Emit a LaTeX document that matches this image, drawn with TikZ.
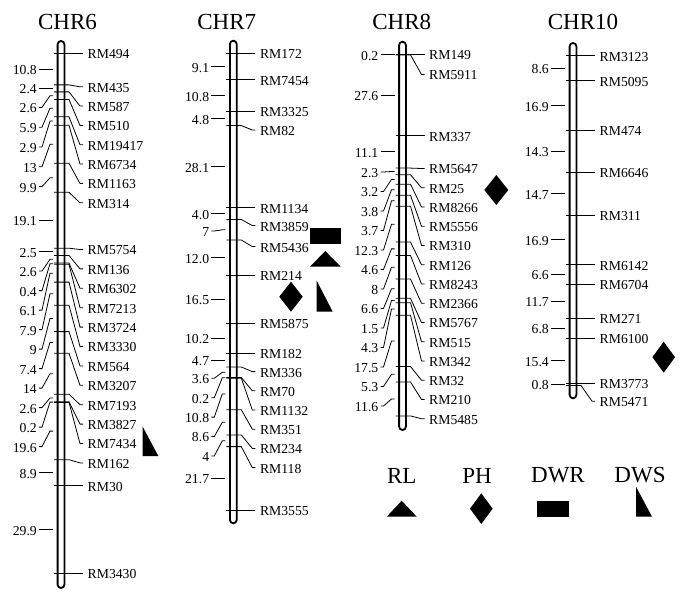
\documentclass[tikz,border=0pt]{standalone}
\usepackage{fontspec}
\setmainfont{Liberation Serif}
\tikzset{
  tickline/.style={line width=0.8pt, line cap=butt, line join=miter},
  mlab/.style={anchor=west, inner sep=0pt, font=\fontsize{13.7}{14}\selectfont},
  dlab/.style={anchor=east, inner sep=0pt, font=\fontsize{13.7}{14}\selectfont},
  chrbar/.style={line width=1.8pt, fill=white, rounded corners=3.4pt},
  chrtitle/.style={inner sep=0pt, font=\fontsize{23}{25}\selectfont},
  sym/.style={fill=black}
}
\newcommand\mk[3]{\draw[tickline] (\cx-7,#1) -- (\cx+8,#1) -- (\cx+19,#2) -- (\cx+22,#2); \node[mlab] at (\cx+26.5,#2+1) {#3};}
\newcommand\dl[3]{\draw[tickline] (\cx-8,#1) -- (\cx-11,#1) -- (\cx-19,#2) -- (\cx-22,#2); \node[dlab] at (\cx-24,#2+1) {#3};}
\newcommand\drawbar[2]{\draw[chrbar] (\cx-3.4,#1) rectangle (\cx+3.4,#2);}
\begin{document}
\begin{tikzpicture}[x=1pt,y=-1pt]
\useasboundingbox (0,0) rectangle (687,601);
% titles
\node[chrtitle] (t6) at (67.5,22) {CHR6};
\node[chrtitle] (t7) at (226.7,22) {CHR7};
\node[chrtitle] (t8) at (401.7,22) {CHR8};
\node[chrtitle] (t10) at (583,22) {CHR10};
% ---------------- CHR6
\def\cx{61}
\drawbar{41}{588}
\mk{53.3}{53.3}{RM494}
\mk{84.9}{86.8}{RM435}
\mk{91.9}{106.1}{RM587}
\mk{99.5}{125.5}{RM510}
\mk{116.8}{144.8}{RM19417}
\mk{125.3}{164.1}{RM6734}
\mk{163.3}{183.5}{RM1163}
\mk{192.3}{202.8}{RM314}
\mk{248.2}{249.5}{RM5754}
\mk{255.5}{268.9}{RM136}
\mk{263.1}{288.3}{RM6302}
\mk{264.3}{307.7}{RM7213}
\mk{282.1}{327.1}{RM3724}
\mk{305.2}{346.5}{RM3330}
\mk{331.6}{365.9}{RM564}
\mk{353.2}{385.3}{RM3207}
\mk{394.2}{404.7}{RM7193}
\mk{401.8}{424.1}{RM3827}
\mk{402.4}{443.5}{RM7434}
\mk{459.7}{462.9}{RM162}
\mk{485.8}{485.8}{RM30}
\mk{573.3}{573.3}{RM3430}
\dl{69.1}{69.1}{10.8}
\dl{88.4}{88.4}{2.4}
\dl{95.7}{107.4}{2.6}
\dl{108.2}{127.2}{5.9}
\dl{121.1}{147.0}{2.9}
\dl{144.3}{166.8}{13}
\dl{177.8}{186.6}{9.9}
\dl{220.3}{220.3}{19.1}
\dl{251.9}{251.9}{2.5}
\dl{259.3}{271.1}{2.6}
\dl{263.7}{290.6}{0.4}
\dl{273.2}{310.1}{6.1}
\dl{293.7}{329.6}{7.9}
\dl{318.4}{349.1}{9}
\dl{342.4}{368.6}{7.4}
\dl{373.7}{388.1}{14}
\dl{398.0}{407.6}{2.6}
\dl{402.1}{427.1}{0.2}
\dl{431.1}{446.6}{19.6}
\dl{472.8}{472.8}{8.9}
\dl{529.6}{529.6}{29.9}
% ---------------- CHR7
\def\cx{233.3}
\drawbar{40.7}{523.3}
\mk{53.3}{53.3}{RM172}
\mk{79.9}{79.9}{RM7454}
\mk{111.5}{111.5}{RM3325}
\mk{125.6}{130}{RM82}
\mk{207.8}{207.8}{RM1134}
\mk{219.5}{225.6}{RM3859}
\mk{240.0}{246.6}{RM5436}
\mk{275.1}{275.1}{RM214}
\mk{323.4}{323.4}{RM5875}
\mk{353.2}{353.2}{RM182}
\mk{367.0}{371.6}{RM336}
\mk{377.5}{390.8}{RM70}
\mk{378.1}{410.0}{RM1132}
\mk{409.7}{429.2}{RM351}
\mk{434.9}{448.4}{RM234}
\mk{446.6}{467.6}{RM118}
\mk{510.1}{510.1}{RM3555}
\dl{66.6}{66.6}{9.1}
\dl{95.7}{95.7}{10.8}
\dl{118.6}{118.6}{4.8}
\dl{166.7}{166.7}{28.1}
\dl{213.7}{213.7}{4.0}
\dl{229.8}{231}{7}
\dl{257.6}{257.6}{12.0}
\dl{299.3}{299.3}{16.5}
\dl{338.3}{338.3}{10.2}
\dl{360.1}{360.1}{4.7}
\dl{372.3}{378.3}{3.6}
\dl{377.8}{397.7}{0.2}
\dl{393.9}{417.1}{10.8}
\dl{422.3}{436.5}{8.6}
\dl{440.8}{455.9}{4}
\dl{478.4}{478.4}{21.7}
% ---------------- CHR8
\def\cx{402.5}
\drawbar{41.7}{430}
\mk{54.3}{54.3}{RM149}
\mk{54.9}{74.5}{RM5911}
\mk{135.6}{135.6}{RM337}
\mk{168.1}{168.5}{RM5647}
\mk{174.8}{187.75}{RM25}
\mk{184.2}{207.0}{RM8266}
\mk{195.3}{226.25}{RM5556}
\mk{206.2}{245.5}{RM310}
\mk{242.1}{264.75}{RM126}
\mk{255.6}{284.0}{RM8243}
\mk{279.0}{303.25}{RM2366}
\mk{298.3}{322.5}{RM5767}
\mk{302.7}{341.75}{RM515}
\mk{315.3}{361.0}{RM342}
\mk{366.5}{380.25}{RM32}
\mk{382.0}{399.5}{RM210}
\mk{415.9}{418.75}{RM5485}
\dl{54.6}{54.6}{0.2}
\dl{95.3}{95.3}{27.6}
\dl{151.9}{151.9}{11.1}
\dl{171.5}{172}{2.3}
\dl{179.5}{191.5}{3.2}
\dl{189.8}{211}{3.8}
\dl{200.8}{230.5}{3.7}
\dl{224.2}{250}{12.3}
\dl{248.9}{269.5}{4.6}
\dl{267.3}{289}{8}
\dl{288.7}{308.5}{6.6}
\dl{300.5}{328}{1.5}
\dl{309.0}{347.5}{4.3}
\dl{340.9}{367}{17.5}
\dl{374.3}{386.5}{5.3}
\dl{399.0}{406}{11.6}
% ---------------- CHR10
\def\cx{573}
\drawbar{43}{398.3}
\mk{55.7}{55.7}{RM3123}
\mk{80.9}{80.9}{RM5095}
\mk{130.3}{130.3}{RM474}
\mk{172.1}{172.1}{RM6646}
\mk{215.2}{215.2}{RM311}
\mk{264.6}{264.6}{RM6142}
\mk{283.9}{283.9}{RM6704}
\mk{318.2}{318.2}{RM271}
\mk{338.1}{338.1}{RM6100}
\mk{383.1}{383.1}{RM3773}
\mk{385.5}{401.2}{RM5471}
\dl{68.3}{68.3}{8.6}
\dl{105.6}{105.6}{16.9}
\dl{151.2}{151.2}{14.3}
\dl{193.7}{193.7}{14.7}
\dl{239.9}{239.9}{16.9}
\dl{274.3}{274.3}{6.6}
\dl{301.1}{301.1}{11.7}
\dl{328.2}{328.2}{6.8}
\dl{360.6}{360.6}{15.4}
\dl{384.3}{384.3}{0.8}
% ---------------- QTL symbols
\fill[sym] (142.7,426.7) -- (142.7,456) -- (158.3,456) -- cycle;
\fill[sym] (310,227.7) rectangle (340.7,244);
\fill[sym] (310,266.7) -- (340.7,266.7) -- (325.3,251) -- cycle;
\fill[sym] (291,281.7) -- (302.7,296.7) -- (291,311.7) -- (279.3,296.7) -- cycle;
\fill[sym] (316.7,280.7) -- (316.7,311.7) -- (332.7,311.7) -- cycle;
\fill[sym] (496.3,175) -- (508.3,190) -- (496.3,205) -- (484.3,190) -- cycle;
\fill[sym] (663.7,341.7) -- (675,357.2) -- (663.7,372.7) -- (652.4,357.2) -- cycle;
% ---------------- legend
\node[chrtitle] (lRL) at (401.7,475.5) {RL};
\node[chrtitle] (lPH) at (477,475.5) {PH};
\node[chrtitle] (lDWR) at (558,475.5) {DWR};
\node[chrtitle] (lDWS) at (640,475.5) {DWS};
\fill[sym] (386.7,516.7) -- (416.7,516.7) -- (401.7,500.7) -- cycle;
\fill[sym] (481.3,493.3) -- (492.6,508.7) -- (481.3,524) -- (470,508.7) -- cycle;
\fill[sym] (537.3,500.7) rectangle (569,516.7);
\fill[sym] (636,486.7) -- (636,516.7) -- (652,516.7) -- cycle;
\end{tikzpicture}
\end{document}
